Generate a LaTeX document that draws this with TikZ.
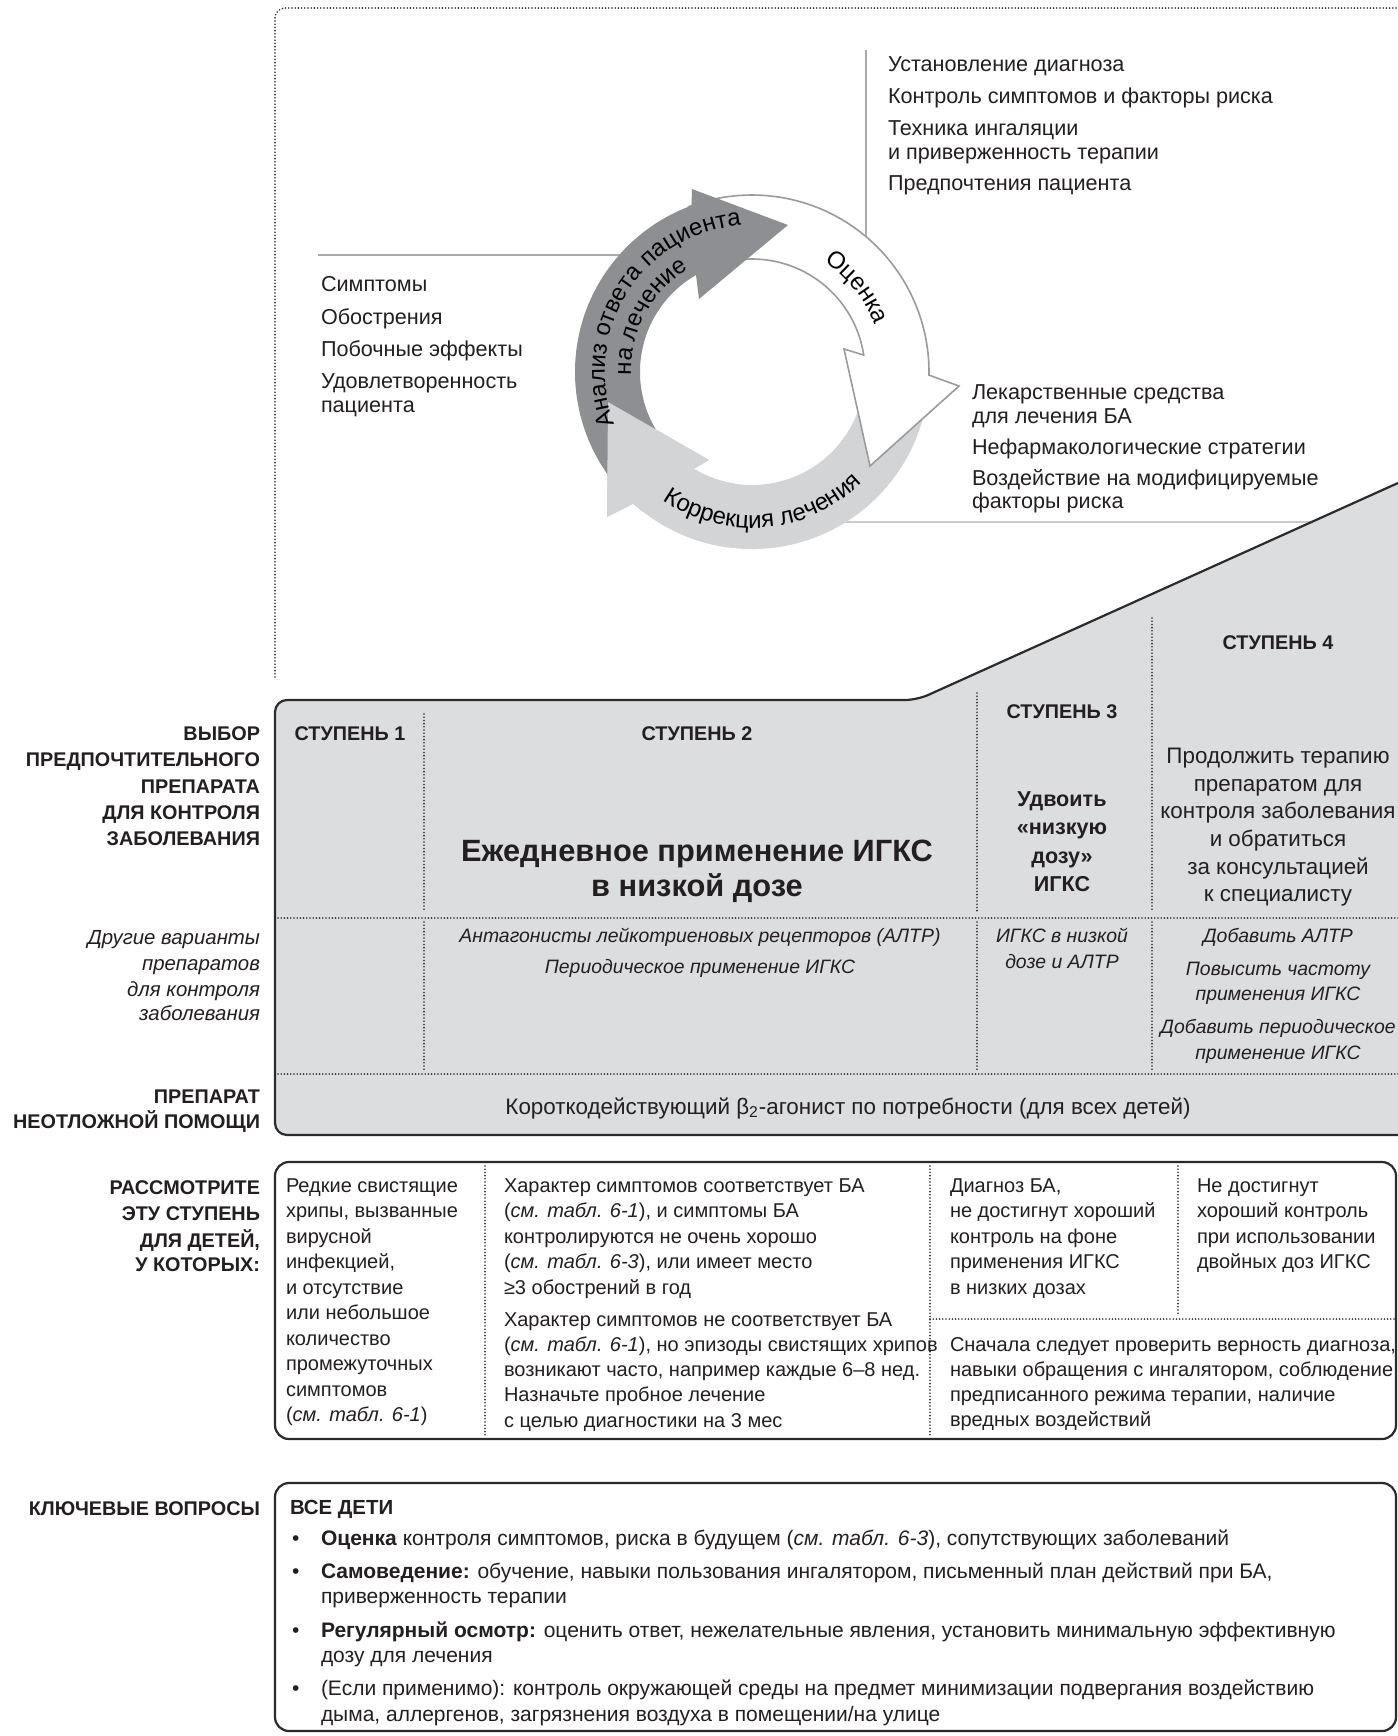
\documentclass[tikz,border=0pt]{standalone}
\usepackage{fontspec}
\setmainfont{Liberation Sans}
\usetikzlibrary{decorations.text}
\definecolor{boxgray}{HTML}{DCDDDF}
\definecolor{darkarr}{HTML}{8E8F92}
\definecolor{lightarr}{HTML}{D3D4D6}
\definecolor{outl}{HTML}{9A9B9D}
\definecolor{annl}{HTML}{A9AAAC}
\definecolor{annlb}{HTML}{C9CACC}
\definecolor{frm}{HTML}{2B2B2B}
\definecolor{txt}{HTML}{231F20}
\newcommand\cycf{\fontsize{12}{14}\selectfont}
\begin{document}
\begin{tikzpicture}[x=0.5pt,y=-0.5pt,
 every node/.style={inner sep=0pt, outer sep=0pt, text=txt},
 stAnn/.style={font=\fontsize{10.8}{13}\selectfont, anchor=base west},
 stLab/.style={font=\bfseries\fontsize{9.9}{12}\selectfont, anchor=base east},
 stILab/.style={font=\itshape\fontsize{10.2}{12}\selectfont, anchor=base east},
 stHdr/.style={font=\bfseries\fontsize{9.9}{12}\selectfont, anchor=base},
 stBig/.style={font=\bfseries\fontsize{15.4}{18}\selectfont, anchor=base},
 stDbl/.style={font=\bfseries\fontsize{10.8}{13}\selectfont, anchor=base},
 stFour/.style={font=\fontsize{11.2}{13}\selectfont, anchor=base},
 stIt/.style={font=\itshape\fontsize{9.7}{12}\selectfont, anchor=base},
 stRel/.style={font=\fontsize{11.2}{13}\selectfont, anchor=base},
 stTx/.style={font=\fontsize{10}{12}\selectfont, anchor=base west},
 stKey/.style={font=\fontsize{10.5}{12}\selectfont, anchor=base west},
 dotln/.style={draw=frm, line width=0.9pt, line cap=round, dash pattern=on 0pt off 1.6pt},
 annln/.style={draw=annl, line width=0.8pt},
]
\useasboundingbox[fill=white] (0,0) rectangle (1398,1736);

% ---------- top dotted frame
\coordinate (fr1) at (275,677);
\coordinate (fr2) at (275,8);
\coordinate (fr3) at (1398,8);
\draw[dotln, rounded corners=5pt] (fr1) -- (fr2) -- (fr3);

% ---------- annotation lines
\coordinate (vl1) at (866,50);  \coordinate (vl2) at (866,240);
\coordinate (hl1) at (318,255); \coordinate (hl2) at (630,255);
\coordinate (bl1) at (830,522); \coordinate (bl2) at (1373,522);
\draw[annln] (vl1) -- (vl2);
\draw[annln] (hl1) -- (hl2);
\draw[draw=annlb, line width=1.3pt] (bl1) -- (bl2);

% ---------- cycle
\begin{scope}[shift={(752,372)}, y=0.5pt]
 \path[fill=lightarr] (-5:177) arc[start angle=-5, end angle=-132, radius=177]
   -- (-145,-145) -- (-144,-30) -- (-43,-88) -- (-121:113)
   arc[start angle=-121, end angle=-5, radius=113] -- cycle;
 \path[fill=white, draw=outl, line width=0.8pt] (111:177) arc[start angle=111, end angle=-1, radius=177]
   -- (207,-14) -- (118,-94) -- (92,23) -- (8.6:113)
   arc[start angle=8.6, end angle=121, radius=113] -- cycle;
 \path[fill=darkarr] (232:177) arc[start angle=232, end angle=110, radius=177]
   -- (-60,183) -- (36,147) -- (-53,73) -- (120:112)
   arc[start angle=120, end angle=232, radius=112] -- cycle;
 \begin{scope}
  \clip (0,0) -- (175:260) arc[start angle=175, end angle=262, radius=260] -- cycle;
  \path[fill=lightarr] (-5:177) arc[start angle=-5, end angle=-132, radius=177]
    -- (-145,-145) -- (-144,-30) -- (-43,-88) -- (-121:113)
    arc[start angle=-121, end angle=-5, radius=113] -- cycle;
 \end{scope}
 \path[decorate, decoration={text along path, text align=center, text={|\cycf|Анализ ответа пациента}}]
   (204:147) arc[start angle=204, end angle=91, radius=147];
 \path[decorate, decoration={text along path, text align=center, text={|\cycf|на лечение}}]
   (194:121) arc[start angle=194, end angle=109, radius=121];
 \path[decorate, decoration={text along path, text align=center, text={|\cycf|Оценка}}]
   (74:132) arc[start angle=74, end angle=4, radius=132];
 \path[decorate, decoration={text along path, text align=center, text={|\cycf|Коррекция лечения}}]
   (226:156) arc[start angle=226, end angle=324, radius=156];
\end{scope}

% ---------- annotation texts
\node[stAnn] (u1) at (888,71)  {Установление диагноза};
\node[stAnn] (u2) at (888,103) {Контроль симптомов и факторы риска};
\node[stAnn] (u3) at (888,135) {Техника ингаляции};
\node[stAnn] (u4) at (888,159) {и приверженность терапии};
\node[stAnn] (u5) at (888,190) {Предпочтения пациента};
\node[stAnn] (l1) at (321,291) {Симптомы};
\node[stAnn] (l2) at (321,324) {Обострения};
\node[stAnn] (l3) at (321,356) {Побочные эффекты};
\node[stAnn] (l4) at (321,388) {Удовлетворенность};
\node[stAnn] (l5) at (321,412) {пациента};
\node[stAnn] (r1) at (972,399) {Лекарственные средства};
\node[stAnn] (r2) at (972,423) {для лечения БА};
\node[stAnn] (r3) at (972,454) {Нефармакологические стратегии};
\node[stAnn] (r4) at (972,485) {Воздействие на модифицируемые};
\node[stAnn] (r5) at (972,508) {факторы риска};

% ---------- step box
\path[fill=boxgray, draw=frm, line width=1.1pt, rounded corners=6pt]
  (1398,1135) -- (275,1135) -- (275,700) -- (917,700) -- (1398,483);
\coordinate (d1a) at (424,714);  \coordinate (d1b) at (424,912);
\coordinate (d1c) at (424,922);  \coordinate (d1d) at (424,1070);
\coordinate (d2a) at (977,693);  \coordinate (d2b) at (977,912);
\coordinate (d2c) at (977,922);  \coordinate (d2d) at (977,1070);
\coordinate (d3a) at (1152,618); \coordinate (d3b) at (1152,912);
\coordinate (d3c) at (1152,922); \coordinate (d3d) at (1152,1070);
\coordinate (h1a) at (278,918);  \coordinate (h1b) at (1398,918);
\coordinate (h2a) at (278,1074); \coordinate (h2b) at (1398,1074);
\draw[dotln] (d1a) -- (d1b); \draw[dotln] (d1c) -- (d1d);
\draw[dotln] (d2a) -- (d2b); \draw[dotln] (d2c) -- (d2d);
\draw[dotln] (d3a) -- (d3b); \draw[dotln] (d3c) -- (d3d);
\draw[dotln] (h1a) -- (h1b); \draw[dotln] (h2a) -- (h2b);

\node[stHdr] (s1) at (350,740) {СТУПЕНЬ 1};
\node[stHdr] (s2) at (697,740) {СТУПЕНЬ 2};
\node[stHdr] (s3) at (1062,718) {СТУПЕНЬ 3};
\node[stHdr] (s4) at (1278,649) {СТУПЕНЬ 4};
\node[stBig] (b1) at (697,861) {Ежедневное применение ИГКС};
\node[stBig] (b2) at (697,896) {в низкой дозе};
\node[stDbl] (q1) at (1062,806) {Удвоить};
\node[stDbl] (q2) at (1062,834) {«низкую};
\node[stDbl] (q3) at (1062,863) {дозу»};
\node[stDbl] (q4) at (1062,891) {ИГКС};
\node[stFour] (f1) at (1278,763) {Продолжить терапию};
\node[stFour] (f2) at (1278,791) {препаратом для};
\node[stFour] (f3) at (1278,818) {контроля заболевания};
\node[stFour] (f4) at (1278,846) {и обратиться};
\node[stFour] (f5) at (1278,874) {за консультацией};
\node[stFour] (f6) at (1278,901) {к специалисту};
\node[stIt] (i1) at (700,942) {Антагонисты лейкотриеновых рецепторов (АЛТР)};
\node[stIt] (i2) at (700,973) {Периодическое применение ИГКС};
\node[stIt] (i3) at (1062,942) {ИГКС в низкой};
\node[stIt] (i4) at (1062,968) {дозе и АЛТР};
\node[stIt] (i5) at (1278,942) {Добавить АЛТР};
\node[stIt] (i6) at (1278,975) {Повысить частоту};
\node[stIt] (i7) at (1278,1000) {применения ИГКС};
\node[stIt] (i8) at (1278,1033) {Добавить периодическое};
\node[stIt] (i9) at (1278,1059) {применение ИГКС};
\node[stRel] (rl) at (848,1114) {Короткодействующий β\textsubscript{2}-агонист по потребности (для всех детей)};

% ---------- left labels
\node[stLab] (a1) at (260,740) {ВЫБОР};
\node[stLab] (a2) at (260,766) {ПРЕДПОЧТИТЕЛЬНОГО};
\node[stLab] (a3) at (260,793) {ПРЕПАРАТА};
\node[stLab] (a4) at (260,819) {ДЛЯ КОНТРОЛЯ};
\node[stLab] (a5) at (260,845) {ЗАБОЛЕВАНИЯ};
\node[stILab] (o1) at (260,944) {Другие варианты};
\node[stILab] (o2) at (260,970) {препаратов};
\node[stILab] (o3) at (260,996) {для контроля};
\node[stILab] (o4) at (260,1020) {заболевания};
\node[stLab] (p1) at (260,1103) {ПРЕПАРАТ};
\node[stLab] (p2) at (260,1128) {НЕОТЛОЖНОЙ ПОМОЩИ};
\node[stLab] (k1) at (260,1194) {РАССМОТРИТЕ};
\node[stLab] (k2) at (260,1220) {ЭТУ СТУПЕНЬ};
\node[stLab] (k3) at (260,1247) {ДЛЯ ДЕТЕЙ,};
\node[stLab] (k4) at (260,1271) {У КОТОРЫХ:};
\node[stLab] (kv) at (260,1515) {КЛЮЧЕВЫЕ ВОПРОСЫ};

% ---------- consider box
\draw[draw=frm, line width=1.1pt, rounded corners=7pt] (275,1162) rectangle (1396,1439);
\coordinate (e1a) at (485,1166); \coordinate (e1b) at (485,1436);
\coordinate (e2a) at (930,1166); \coordinate (e2b) at (930,1436);
\coordinate (e3a) at (1178,1166); \coordinate (e3b) at (1178,1316);
\coordinate (e4a) at (930,1319); \coordinate (e4b) at (1394,1319);
\draw[dotln] (e1a) -- (e1b); \draw[dotln] (e2a) -- (e2b);
\draw[dotln] (e3a) -- (e3b); \draw[dotln] (e4a) -- (e4b);

\foreach \t [count=\i] in {{Редкие свистящие},{хрипы, вызванные},{вирусной},{инфекцией,},{и отсутствие},{или небольшое},{количество},{промежуточных},{симптомов},{(\textit{см. табл. 6-1})}}
  \node[stTx] (ca\i) at (286,{1192+25.5*(\i-1)}) {\t};
\foreach \t [count=\i] in {{Характер симптомов соответствует БА},{(\textit{см. табл. 6-1}), и симптомы БА},{контролируются не очень хорошо},{(\textit{см. табл. 6-3}), или имеет место},{≥3 обострений в год}}
  \node[stTx] (cb\i) at (504,{1192+25.5*(\i-1)}) {\t};
\foreach \t [count=\i] in {{Характер симптомов не соответствует БА},{(\textit{см. табл. 6-1}), но эпизоды свистящих хрипов},{возникают часто, например каждые 6–8 нед.},{Назначьте пробное лечение},{с целью диагностики на 3 мес}}
  \node[stTx] (cc\i) at (504,{1326+25.3*(\i-1)}) {\t};
\foreach \t [count=\i] in {{Диагноз БА,},{не достигнут хороший},{контроль на фоне},{применения ИГКС},{в низких дозах}}
  \node[stTx] (cd\i) at (950,{1192+25.5*(\i-1)}) {\t};
\foreach \t [count=\i] in {{Не достигнут},{хороший контроль},{при использовании},{двойных доз ИГКС}}
  \node[stTx] (ce\i) at (1197,{1192+25.5*(\i-1)}) {\t};
\foreach \t [count=\i] in {{Сначала следует проверить верность диагноза,},{навыки обращения с ингалятором, соблюдение},{предписанного режима терапии, наличие},{вредных воздействий}}
  \node[stTx] (cf\i) at (950,{1351+25.3*(\i-1)}) {\t};

% ---------- key questions box
\draw[draw=frm, line width=1.1pt, rounded corners=7pt] (275,1483) rectangle (1396,1731);
\node[stKey, font=\bfseries\fontsize{10.2}{12}\selectfont] (vd) at (290,1514) {ВСЕ ДЕТИ};
\node[stKey] (bu1) at (292,1545) {•};
\node[stKey] (bu2) at (292,1578) {•};
\node[stKey] (bu3) at (292,1637) {•};
\node[stKey] (bu4) at (292,1695) {•};
\node[stKey] (g1) at (321,1545) {\textbf{Оценка} контроля симптомов, риска в будущем (\textit{см. табл. 6-3}), сопутствующих заболеваний};
\node[stKey] (g2) at (321,1578) {\textbf{Самоведение:} обучение, навыки пользования ингалятором, письменный план действий при БА,};
\node[stKey] (g3) at (321,1603) {приверженность терапии};
\node[stKey] (g4) at (321,1637) {\textbf{Регулярный осмотр:} оценить ответ, нежелательные явления, установить минимальную эффективную};
\node[stKey] (g5) at (321,1662) {дозу для лечения};
\node[stKey] (g6) at (321,1695) {(Если применимо): контроль окружающей среды на предмет минимизации подвергания воздействию};
\node[stKey] (g7) at (321,1721) {дыма, аллергенов, загрязнения воздуха в помещении/на улице};
\end{tikzpicture}
\end{document}
